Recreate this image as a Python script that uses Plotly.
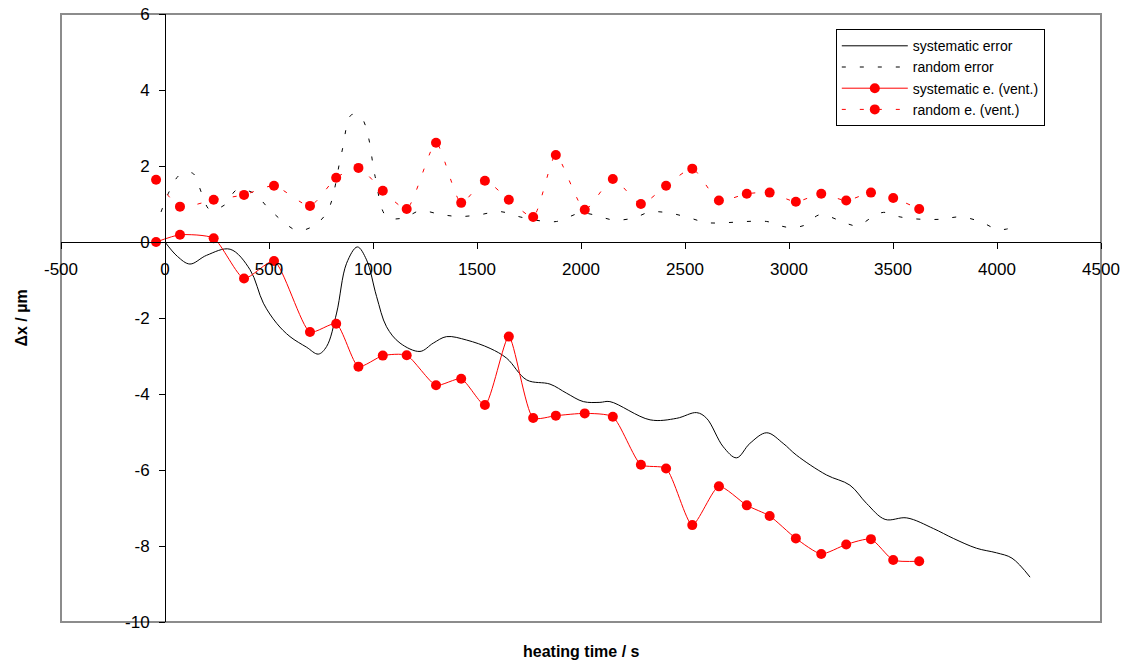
import plotly.graph_objects as go

# ---- data ----
sys_x = [0, 60, 120, 200, 313, 409, 473, 537, 601, 681, 737, 777, 825, 873, 925, 969, 1017, 1065, 1130,
         1226, 1290, 1354, 1450, 1563, 1643, 1739, 1851, 1931, 2011, 2091, 2139, 2332, 2460, 2556, 2604,
         2684, 2748, 2812, 2893, 2972, 3036, 3180, 3293, 3373, 3462, 3566, 3694, 3790, 3902, 3998, 4072, 4159]
sys_y = [0, -0.38, -0.58, -0.35, -0.19, -0.73, -1.61, -2.14, -2.49, -2.77, -2.95, -2.75, -1.87, -0.56, -0.13,
         -0.47, -1.43, -2.23, -2.66, -2.88, -2.66, -2.49, -2.58, -2.80, -3.06, -3.63, -3.74, -3.98, -4.20,
         -4.22, -4.20, -4.68, -4.64, -4.49, -4.64, -5.39, -5.68, -5.30, -5.02, -5.30, -5.61, -6.13, -6.40,
         -6.88, -7.30, -7.26, -7.54, -7.80, -8.06, -8.18, -8.32, -8.82]

rnd_x = [-19, 24, 72, 133, 176, 216, 288, 345, 425, 497, 561, 638, 721, 785, 849, 897, 945, 977, 1010, 1065,
         1146, 1226, 1330, 1418, 1514, 1611, 1707, 1787, 1883, 1995, 2059, 2156, 2252, 2332, 2428, 2524, 2604,
         2700, 2796, 2893, 2989, 3069, 3149, 3237, 3325, 3405, 3454, 3534, 3630, 3734, 3822, 3918, 3998, 4046, 4094]
rnd_y = [0.79, 1.37, 1.77, 1.81, 1.29, 0.85, 0.98, 1.37, 1.29, 0.89, 0.57, 0.30, 0.45, 0.85, 2.34, 3.35, 3.26,
         2.78, 1.73, 0.67, 0.63, 0.82, 0.72, 0.67, 0.72, 0.80, 0.66, 0.57, 0.54, 0.76, 0.72, 0.58, 0.63, 0.79,
         0.76, 0.63, 0.51, 0.51, 0.54, 0.54, 0.39, 0.43, 0.72, 0.58, 0.43, 0.67, 0.78, 0.66, 0.60, 0.60, 0.66,
         0.54, 0.34, 0.34, 0.45]

vent_x = [-43, 72, 234, 380, 524, 697, 823, 930, 1047, 1162, 1303, 1424, 1538, 1653, 1770, 1879, 2018, 2153,
          2288, 2409, 2535, 2663, 2797, 2907, 3033, 3155, 3275, 3394, 3501, 3626]
vent_sys_y = [0.0, 0.19, 0.10, -0.96, -0.50, -2.37, -2.15, -3.28, -2.99, -2.98, -3.77, -3.60, -4.29, -2.49,
              -4.63, -4.57, -4.51, -4.60, -5.86, -5.96, -7.45, -6.43, -6.93, -7.21, -7.80, -8.21, -7.96, -7.82,
              -8.37, -8.40]
vent_rnd_y = [1.64, 0.93, 1.11, 1.24, 1.48, 0.95, 1.69, 1.95, 1.35, 0.87, 2.61, 1.03, 1.61, 1.11, 0.66, 2.29,
              0.85, 1.66, 1.00, 1.48, 1.93, 1.09, 1.27, 1.30, 1.06, 1.27, 1.09, 1.30, 1.16, 0.87]

x_ticks = [-500, 0, 500, 1000, 1500, 2000, 2500, 3000, 3500, 4000, 4500]
x_ticktext = ["-500", "0", "500", "1000", "1500", "2000", "2500", "3000", "3500", "4000", "4500"]
y_ticks = [-10, -8, -6, -4, -2, 0, 2, 4, 6]
y_ticktext = ["-10", "-8", "-6", "-4", "-2", "0", "2", "4", "6"]

FONT = "Liberation Sans, Arial, sans-serif"
DASH = "4px,14px"

fig = go.Figure()
fig.add_trace(go.Scatter(x=sys_x, y=sys_y, mode="lines", name="systematic error",
                         line=dict(color="black", width=1, shape="spline", smoothing=1.0)))
fig.add_trace(go.Scatter(x=rnd_x, y=rnd_y, mode="lines", name="random error",
                         line=dict(color="black", width=1, dash=DASH, shape="spline", smoothing=1.0)))
fig.add_trace(go.Scatter(x=vent_x, y=vent_sys_y, mode="lines+markers", name="systematic e. (vent.)",
                         line=dict(color="red", width=1, shape="spline", smoothing=0.6),
                         marker=dict(color="red", size=10)))
fig.add_trace(go.Scatter(x=vent_x, y=vent_rnd_y, mode="lines+markers", name="random e. (vent.)",
                         line=dict(color="red", width=1, dash=DASH, shape="spline", smoothing=0.6),
                         marker=dict(color="red", size=10)))

fig.update_layout(
    width=1127, height=664,
    margin=dict(l=61, r=26, t=14, b=42, autoexpand=False),
    paper_bgcolor="white", plot_bgcolor="white",
    font=dict(family=FONT, size=17, color="black"),
    showlegend=True,
    legend=dict(x=0.745, y=0.975, xanchor="left", yanchor="top",
                bgcolor="white", bordercolor="black", borderwidth=1,
                font=dict(family=FONT, size=14, color="black"),
                itemwidth=66, tracegroupgap=0, entrywidth=212),
    xaxis=dict(range=[-500, 4500], tickvals=x_ticks, ticktext=x_ticktext,
               anchor="free", position=0.625, showgrid=False, zeroline=False, automargin=False,
               showline=True, linecolor="black", linewidth=1,
               ticks="outside", ticklen=6, tickcolor="black", ticklabelstandoff=6),
    yaxis=dict(range=[-10, 6], tickvals=y_ticks, ticktext=y_ticktext,
               anchor="free", position=0.1, showgrid=False, zeroline=False, automargin=False,
               showline=True, linecolor="black", linewidth=1,
               ticks="outside", ticklen=6, tickcolor="black", ticklabelstandoff=6),
    shapes=[dict(type="rect", xref="paper", yref="paper", x0=0, x1=1, y0=0, y1=1,
                 line=dict(color="#8c8c8c", width=2), layer="below")],
    annotations=[
        dict(text="<b>heating time / s</b>", xref="paper", yref="paper", x=0.5, y=-0.048,
             xanchor="center", yanchor="middle", showarrow=False,
             font=dict(family=FONT, size=16, color="black")),
        dict(text="<b>Δx / µm</b>", xref="paper", yref="paper", x=-0.038, y=0.5,
             xanchor="center", yanchor="middle", showarrow=False, textangle=-90,
             font=dict(family=FONT, size=16, color="black")),
    ],
)

fig.write_html("out.html")
